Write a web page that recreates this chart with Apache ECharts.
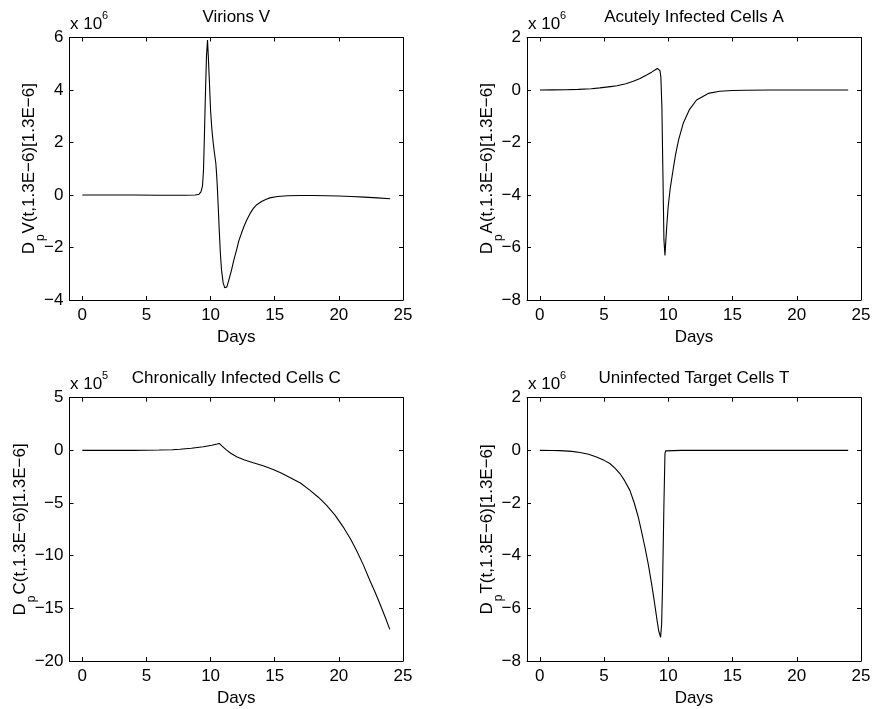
<!DOCTYPE html>
<html><head><meta charset="utf-8">
<script src="https://cdn.jsdelivr.net/npm/echarts@6/dist/echarts.min.js"></script>
<style>html,body{margin:0;padding:0;background:#fff}#c{width:873px;height:709px}</style>
</head><body><div id="c"></div>
<script>
// ---- data (values in units of the axis exponent shown on each panel) ----
const xTicks = [0, 5, 10, 15, 20, 25];
const panelTitles = ['Virions V', 'Acutely Infected Cells A', 'Chronically Infected Cells C', 'Uninfected Target Cells T'];
const exponents = ['6', '6', '5', '6'];
const yLetters = ['V', 'A', 'C', 'T'];
const yRanges = [[-4, 6, 2], [-8, 2, 2], [-20, 5, 5], [-8, 2, 2]];

const virionsV = [[0,0],[2,0],[4,0],[6,-0.01],[8,-0.01],[8.8,0],[9.1,0.03],[9.25,0.12],[9.37,0.35],[9.45,1.0],[9.52,2.3],[9.6,3.9],[9.68,5.3],[9.76,5.9],[9.82,5.3],[9.9,4.4],[10.0,3.2],[10.1,2.5],[10.2,2.0],[10.3,1.6],[10.41,1.2],[10.48,0.7],[10.54,0.15],[10.6,-0.5],[10.67,-1.3],[10.76,-2.2],[10.85,-2.85],[10.98,-3.35],[11.1,-3.53],[11.17,-3.56],[11.27,-3.5],[11.37,-3.33],[11.5,-3.1],[11.63,-2.86],[11.8,-2.5],[12.02,-2.1],[12.2,-1.75],[12.41,-1.45],[12.6,-1.2],[12.8,-0.97],[13.06,-0.72],[13.32,-0.52],[13.6,-0.37],[13.97,-0.25],[14.3,-0.17],[14.62,-0.11],[15.2,-0.06],[16,-0.03],[17,-0.02],[18,-0.02],[19,-0.03],[20,-0.04],[21,-0.06],[22,-0.08],[23,-0.11],[24,-0.14]];

const acuteA = [[0,0],[1,0.005],[2,0.012],[3,0.025],[4,0.05],[4.67,0.08],[5.5,0.13],[6,0.16],[6.7,0.24],[7.27,0.33],[7.8,0.44],[8.31,0.57],[8.7,0.68],[8.96,0.76],[9.15,0.82],[9.25,0.82],[9.35,0.74],[9.42,0.5],[9.5,-0.64],[9.58,-3.17],[9.66,-5.71],[9.74,-6.3],[9.81,-5.71],[9.9,-5.05],[9.99,-4.44],[10.15,-3.75],[10.33,-3.17],[10.55,-2.5],[10.8,-1.9],[11.16,-1.27],[11.63,-0.76],[12.2,-0.38],[13.11,-0.13],[14,-0.05],[15,-0.02],[16,-0.01],[18,0],[20,0],[22,0],[24,0]];

const chronicC = [[0,0],[2,0],[4,0],[5,0.01],[6,0.03],[7,0.06],[7.61,0.1],[8.5,0.2],[9.43,0.34],[10.1,0.48],[10.5,0.6],[10.67,0.66],[10.9,0.4],[11.25,0.02],[11.6,-0.3],[12.03,-0.61],[12.6,-0.9],[13.32,-1.18],[14.1,-1.47],[14.88,-1.81],[15.5,-2.15],[16.18,-2.57],[17,-3.1],[17.73,-3.78],[18.4,-4.45],[19.03,-5.2],[19.7,-6.15],[20.33,-7.26],[20.9,-8.4],[21.37,-9.48],[21.9,-10.85],[22.41,-12.33],[22.8,-13.4],[23.19,-14.54],[23.6,-15.8],[23.97,-17.0]];

const targetT = [[0,0],[1,-0.005],[1.56,-0.01],[2.5,-0.04],[3.12,-0.08],[3.8,-0.15],[4.41,-0.25],[5,-0.38],[5.45,-0.5],[5.9,-0.7],[6.23,-0.88],[6.6,-1.15],[7.01,-1.52],[7.35,-2.0],[7.66,-2.53],[7.9,-3.05],[8.18,-3.68],[8.45,-4.35],[8.7,-5.07],[8.9,-5.7],[9.09,-6.34],[9.25,-6.85],[9.4,-7.1],[9.48,-6.6],[9.55,-5.2],[9.66,-2.02],[9.74,-0.12],[9.8,-0.02],[9.87,0],[11,0],[14,0],[18,0],[22,0],[24,0]];

const seriesData = [virionsV, acuteA, chronicC, targetT];

// ---- layout ----
const FONT = '"Liberation Sans", Arial, Helvetica, sans-serif';
const grids = [
  {left: 69.5, top: 37.5, width: 333.5, height: 262.5},
  {left: 527, top: 37.5, width: 334, height: 262.5},
  {left: 69.5, top: 397.7, width: 333.5, height: 263.3},
  {left: 527, top: 397.7, width: 334, height: 263.3}
];
const nameGaps = [31.5, 31.5, 41, 31.5];
const minus = v => String(v).replace('-', '\u2212');
const blackLine = {color: '#000', width: 1};

const xAxes = [], yAxes = [], series = [], graphics = [];
grids.forEach((g, i) => {
  xAxes.push({
    type: 'value', gridIndex: i, min: -1, max: 25, position: 'bottom',
    axisLine: {onZero: false, lineStyle: blackLine},
    axisTick: {inside: true, length: 4, customValues: xTicks, lineStyle: blackLine},
    axisLabel: {customValues: xTicks, color: '#000', fontSize: 17, fontFamily: FONT, margin: 7, formatter: minus},
    splitLine: {show: false},
    name: 'Days', nameLocation: 'middle', nameGap: 29, nameMoveOverlap: false,
    nameTextStyle: {color: '#000', fontSize: 17, fontFamily: FONT}
  });
  xAxes.push({
    type: 'value', gridIndex: i, min: -1, max: 25, position: 'top',
    axisLine: {onZero: false, lineStyle: blackLine},
    axisTick: {inside: true, length: 4, customValues: xTicks, lineStyle: blackLine},
    axisLabel: {show: false}, splitLine: {show: false}
  });
  const [mn, mx, step] = yRanges[i];
  yAxes.push({
    type: 'value', gridIndex: i, min: mn, max: mx, interval: step, position: 'left',
    axisLine: {onZero: false, lineStyle: blackLine},
    axisTick: {inside: true, length: 4, lineStyle: blackLine},
    axisLabel: {color: '#000', fontSize: 17, fontFamily: FONT, margin: 6, formatter: minus},
    splitLine: {show: false},
    name: '{m|D}{p|p}{m|' + yLetters[i] + '(t,1.3E\u22126)[1.3E\u22126]}',
    nameLocation: 'middle', nameRotate: 90, nameGap: nameGaps[i], nameMoveOverlap: false,
    nameTextStyle: {
      color: '#000', fontSize: 17, fontFamily: FONT,
      rich: {
        m: {color: '#000', fontSize: 17, fontFamily: FONT, lineHeight: 17, verticalAlign: 'top'},
        p: {color: '#000', fontSize: 12, fontFamily: FONT, lineHeight: 12, padding: [14, 1, 0, 1], verticalAlign: 'top'}
      }
    }
  });
  yAxes.push({
    type: 'value', gridIndex: i, min: mn, max: mx, interval: step, position: 'right',
    axisLine: {onZero: false, lineStyle: blackLine},
    axisTick: {inside: true, length: 4, lineStyle: blackLine},
    axisLabel: {show: false}, splitLine: {show: false}
  });
  series.push({
    type: 'line', xAxisIndex: 2 * i, yAxisIndex: 2 * i, data: seriesData[i],
    showSymbol: false, symbol: 'none', lineStyle: {color: '#000', width: 1.1}, animation: false
  });
  const top = i < 2;
  const cx = g.left + g.width / 2;
  graphics.push({type: 'text', x: cx, y: top ? 17 : 378,
    style: {text: panelTitles[i], fill: '#000', font: '17px ' + FONT, align: 'center', verticalAlign: 'middle'}});
  const ex = i % 2 === 0 ? 70 : 528;
  graphics.push({type: 'text', x: ex, y: top ? 24.5 : 384.5,
    style: {text: 'x 10', fill: '#000', font: '17px ' + FONT, align: 'left', verticalAlign: 'middle'}});
  graphics.push({type: 'text', x: ex + 32, y: top ? 16 : 376,
    style: {text: exponents[i], fill: '#000', font: '11px ' + FONT, align: 'left', verticalAlign: 'middle'}});
});

const chart = echarts.init(document.getElementById('c'), null, {renderer: 'canvas'});
chart.setOption({
  backgroundColor: '#fff',
  animation: false,
  grid: grids.map(g => Object.assign({outerBoundsMode: 'none'}, g)),
  xAxis: xAxes,
  yAxis: yAxes,
  series: series,
  graphic: graphics
});
</script></body></html>
